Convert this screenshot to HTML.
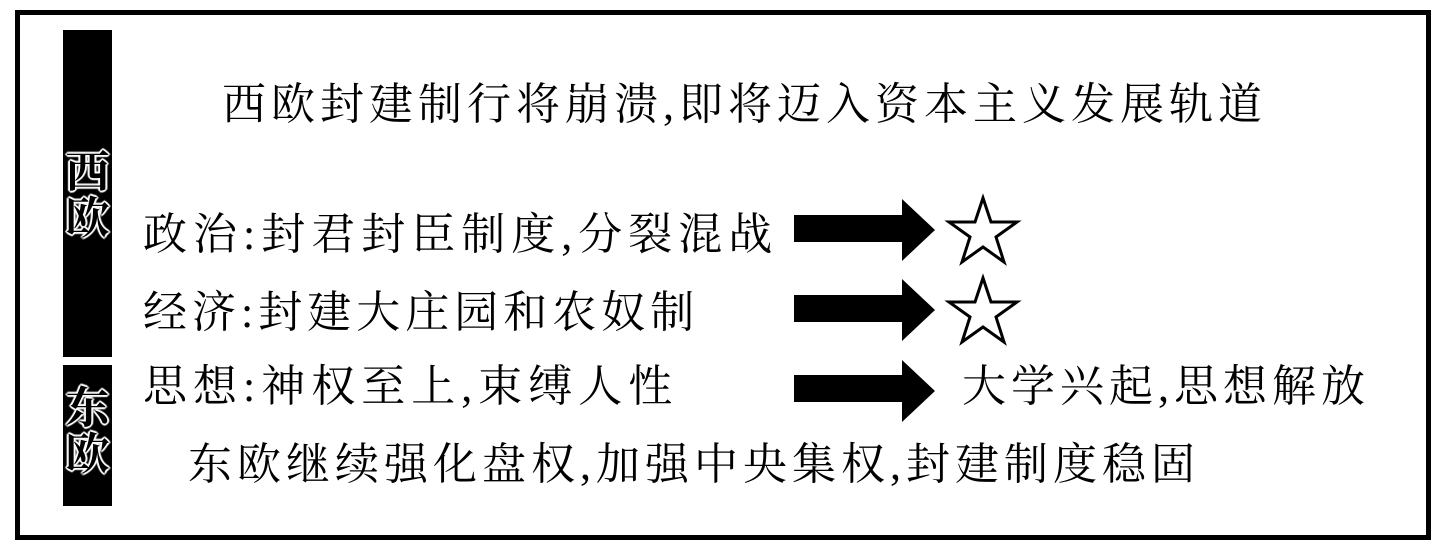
<!DOCTYPE html>
<html><head><meta charset="utf-8"><style>
body{margin:0;width:1446px;height:549px;background:#fff;position:relative;overflow:hidden}
.b{position:absolute;left:15px;top:10px;width:1406px;height:520px;border:5px solid #000}
.bar{position:absolute;left:63px;width:49px;background:#000}
.t{position:absolute;white-space:nowrap;font-family:"Liberation Serif","Noto Serif CJK SC",serif;font-size:44px;line-height:48px;color:#000}
.lab{position:absolute;left:58px;width:59px;text-align:center;font-family:"Liberation Serif","Noto Serif CJK SC",serif;font-size:44px;line-height:46px;color:#000;font-weight:bold;text-shadow:0 0 2px #fff,1px 1px 1px #fff,-1px -1px 1px #fff,1px -1px 1px #fff,-1px 1px 1px #fff,2px 0 1px #fff,-2px 0 1px #fff,0 2px 1px #fff,0 -2px 1px #fff}
</style></head><body>
<div class="b"></div>
<div class="bar" style="top:30px;height:327px"></div>
<div class="bar" style="top:365px;height:141px"></div>
<div class="lab" style="top:150px">西<br>欧</div>
<div class="lab" style="top:386px">东<br>欧</div>
<div class="t" style="left:222px;top:81px;letter-spacing:5px">西欧封建制行将崩溃,即将迈入资本主义发展轨道</div>
<div class="t" style="left:143px;top:211px;letter-spacing:6px">政治:封君封臣制度,分裂混战</div>
<div class="t" style="left:143px;top:289px;letter-spacing:5px">经济:封建大庄园和农奴制</div>
<div class="t" style="left:143px;top:363px;letter-spacing:6px">思想:神权至上,束缚人性</div>
<div class="t" style="left:962px;top:363px;letter-spacing:5px">大学兴起,思想解放</div>
<div class="t" style="left:188px;top:441px;letter-spacing:5px">东欧继续强化盘权,加强中央集权,封建制度稳固</div>
<svg width="1446" height="549" style="position:absolute;left:0;top:0">
<polygon points="794,215 902,215 902,199 935,230 902,261 902,242 794,242" fill="#000"/>
<polygon points="794,295 902,295 902,279 935,310 902,341 902,322 794,322" fill="#000"/>
<polygon points="794,375 902,375 902,360 935,391 902,422 902,402 794,402" fill="#000"/>
<g fill="#fff" stroke="#000" stroke-width="3" stroke-linejoin="miter">
<polygon points="983,198 991,222 1017,222 996,237 1004,262 983,247 962,262 970,237 949,222 975,222"/>
<polygon points="983,278 991,302 1017,302 996,317 1004,342 983,327 962,342 970,317 949,302 975,302"/>
</g>
</svg>
</body></html>
